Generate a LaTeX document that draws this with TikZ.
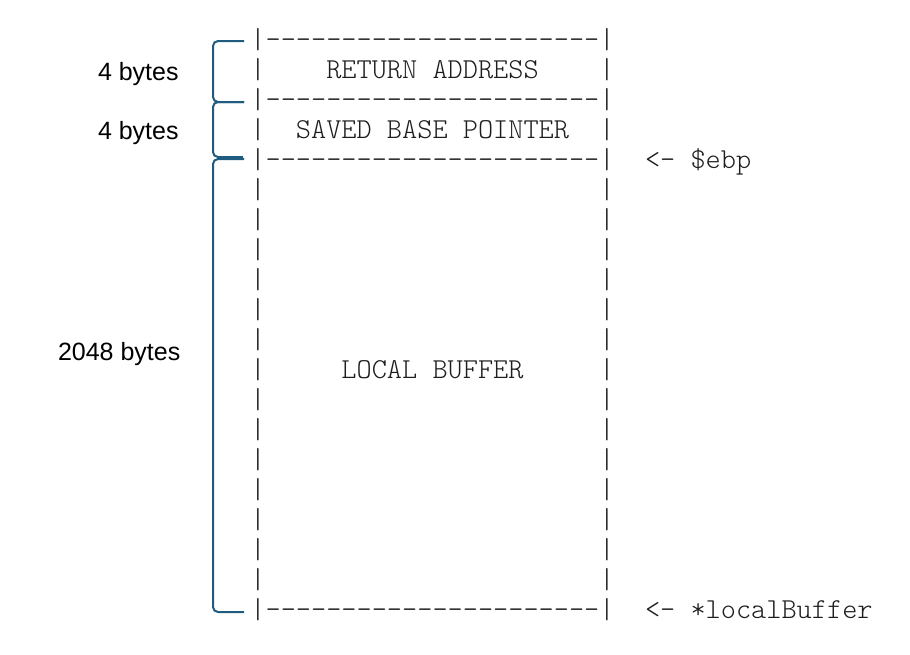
\documentclass[tikz,border=0pt]{standalone}
\usepackage{fontspec}
\setmainfont{Liberation Sans}
\setmonofont{lmmonolt10-regular.otf}
\definecolor{bracec}{RGB}{31,92,128}
\definecolor{asciic}{RGB}{30,30,30}
\tikzset{
  asc/.style={font=\ttfamily\fontsize{14.45}{15}\selectfont, text=asciic, inner sep=0pt, outer sep=0pt},
  lbl/.style={font=\fontsize{12.5}{15}\selectfont, text=black, inner sep=0pt, outer sep=0pt},
  bracepath/.style={draw=bracec, line width=1pt, rounded corners=2.5pt}
}
\begin{document}
\begin{tikzpicture}[x=0.5pt,y=-0.5pt]
\useasboundingbox (0,0) rectangle (910,654);
% pipes (rows 0..19, row centre 40+30k, baseline +8)
\foreach \k in {0,...,19}{
  \pgfmathsetmacro{\b}{48+30*\k}
  \node[asc, anchor=base] (lp\k) at (258,\b) {|};
  \node[asc, anchor=base] (rp\k) at (607,\b) {|};
}
% dashed borders
\node[asc, anchor=base] (d0)  at (432.5,48)  {----------------------};
\node[asc, anchor=base] (d2)  at (432.5,108) {----------------------};
\node[asc, anchor=base] (d4)  at (432.5,168) {----------------------};
\node[asc, anchor=base] (d19) at (432.5,618) {----------------------};
% contents
\node[asc, anchor=base] (ret)  at (432.5,78)  {RETURN ADDRESS};
\node[asc, anchor=base] (sbp)  at (432.5,138) {SAVED BASE POINTER};
\node[asc, anchor=base] (lbuf) at (432.5,378) {LOCAL BUFFER};
% pointers
\node[asc, anchor=base west] (ebp) at (645,168) {<- \$ebp};
\node[asc, anchor=base west] (lbp) at (645,618) {<- *localBuffer};
% size labels
\node[lbl, anchor=base west] (s1) at (98,80)  {4 bytes};
\node[lbl, anchor=base west] (s2) at (98,139) {4 bytes};
\node[lbl, anchor=base west] (s3) at (58,360) {2048 bytes};
% braces
\coordinate (b1t) at (244,41);  \coordinate (b1b) at (244,102);
\coordinate (b2t) at (244,102); \coordinate (b2b) at (243,157);
\coordinate (b3t) at (244,159); \coordinate (b3b) at (244,612);
\draw[bracepath] (b1t) -- (b1t -| 213,0) -- (b1b -| 213,0) -- (b1b);
\draw[bracepath] (b2t) -- (b2t -| 213,0) -- (b2b -| 213,0) -- (b2b);
\draw[bracepath] (b3t) -- (b3t -| 213,0) -- (b3b -| 213,0) -- (b3b);
\end{tikzpicture}
\end{document}
